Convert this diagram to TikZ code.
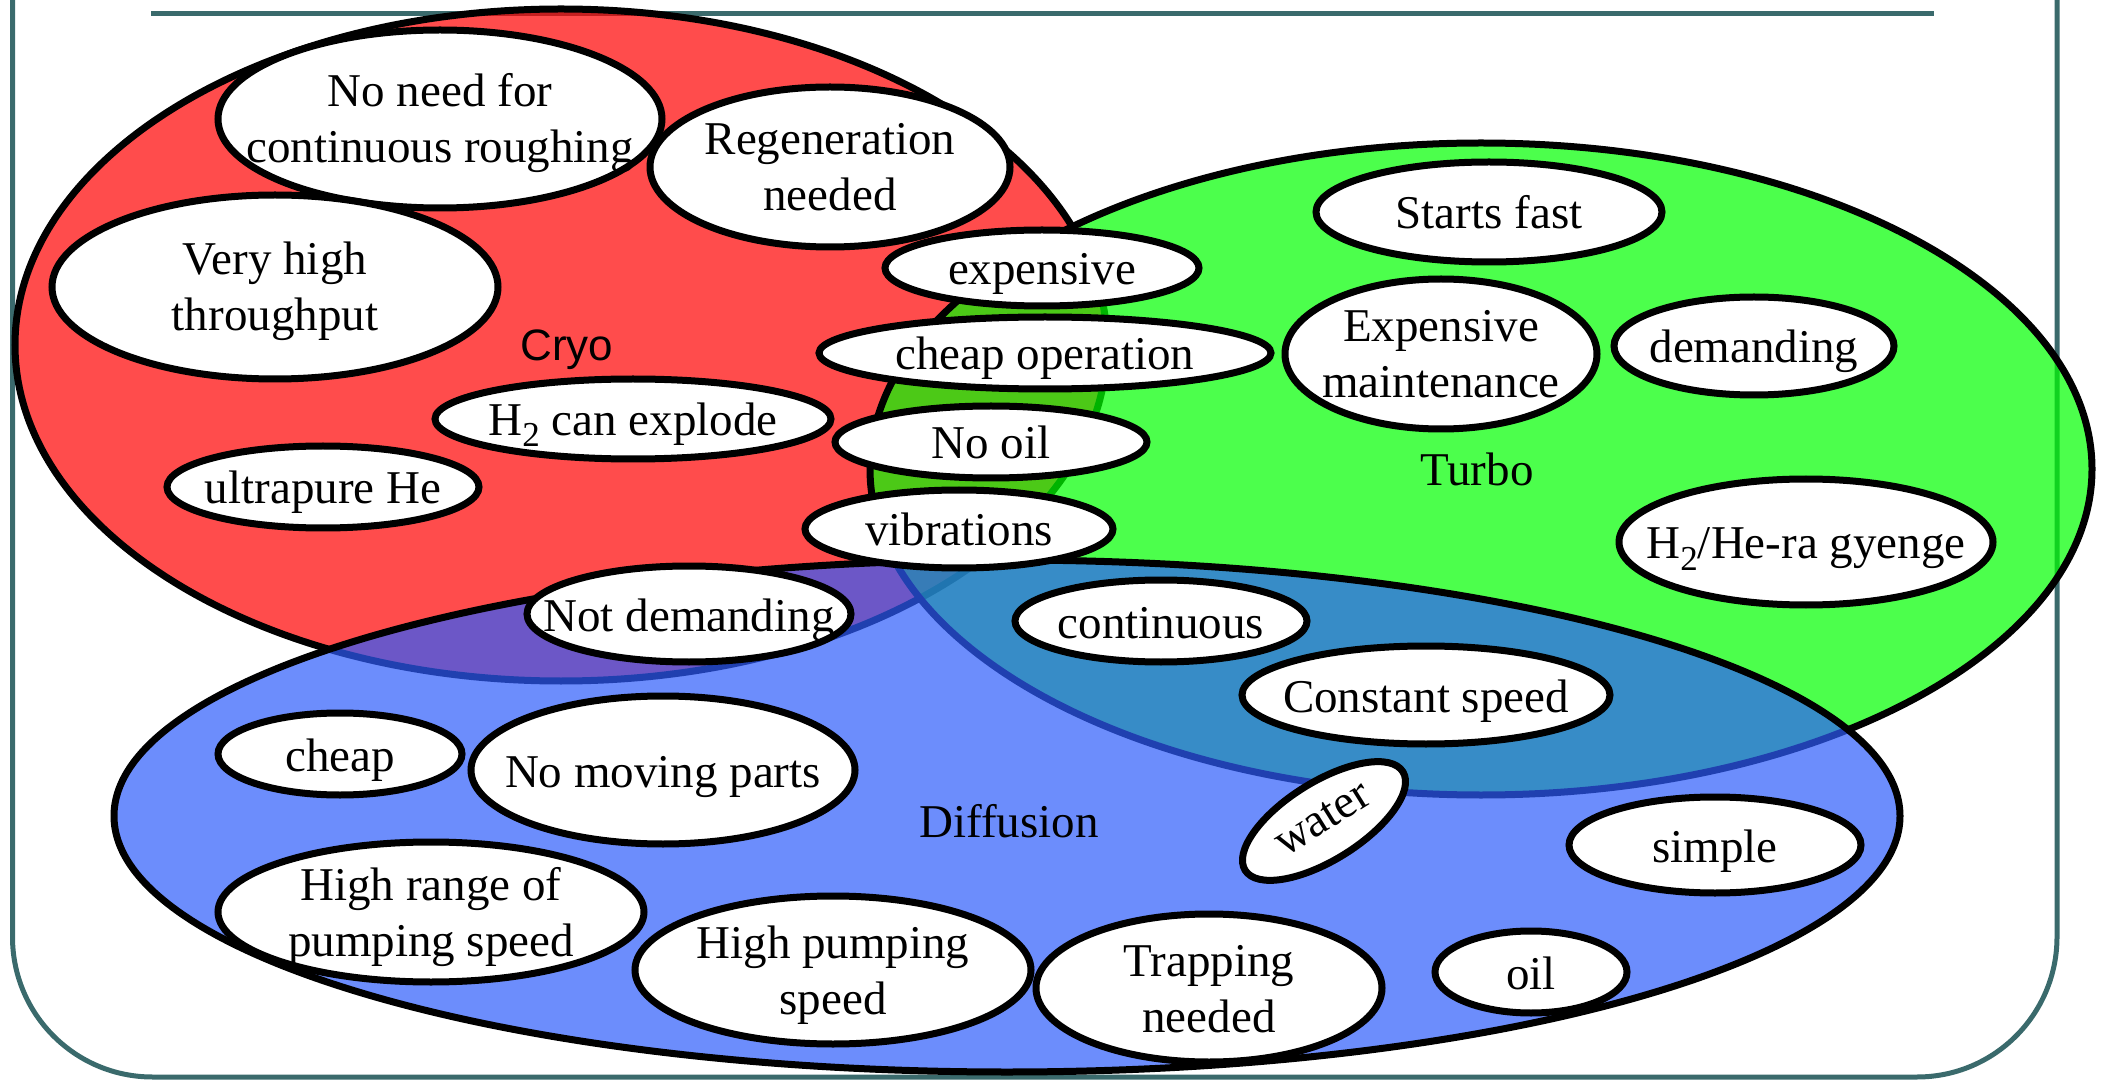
\documentclass[tikz,border=0pt]{standalone}
\usepackage{fontspec}
\setmainfont{Liberation Serif}
\newfontfamily\cryofont{Liberation Sans}
\usepackage{graphicx}
\usetikzlibrary{shapes.geometric}
\definecolor{framec}{RGB}{58,106,108}
\definecolor{cryoc}{RGB}{255,0,0}
\definecolor{turboc}{RGB}{0,255,0}
\definecolor{diffc}{RGB}{46,92,251}
\newcommand{\oneline}[2][8.5pt]{\makebox[0pt]{\smash{\raisebox{-#1}{#2}}}}
\newcommand{\twoline}[2]{\makebox[0pt]{\smash{\raisebox{-22pt}{\begin{tabular}[b]{@{}c@{}}#1\\#2\end{tabular}}}}}
\newcommand{\lowtwo}{\raisebox{-5.5pt}{\fontsize{17.5pt}{20pt}\selectfont 2}}
\tikzset{
  bubble/.style={ellipse, draw=black, fill=white, line width=3.5pt, inner sep=0pt, outer sep=0pt,
    font=\fontsize{23.5pt}{28pt}\selectfont},
  setlabel/.style={anchor=base, inner sep=0pt, font=\fontsize{23.5pt}{28pt}\selectfont},
  venn/.style={fill opacity=0.7, draw=black, draw opacity=1, line width=3.5pt},
  frameline/.style={draw=framec, line width=2.5pt}
}
\begin{document}
\begin{tikzpicture}[x=0.5pt,y=-0.5pt]
\useasboundingbox (0,0) rectangle (2105,1080);
% frame
\path[frameline] (151,13.5) -- (1934,13.5);
\path[frameline, rounded corners=70pt] (12.5,-10) -- (12.5,1077) -- (2057,1077) -- (2057,-10);
% sets
\path[venn, fill=cryoc] (561,345) ellipse [x radius=273pt, y radius=168pt];
\path[venn, fill=turboc] (1481,469) ellipse [x radius=305.5pt, y radius=163pt];
\path[venn, fill=diffc] (1007,816) ellipse [x radius=446.5pt, y radius=128pt];
% set labels
\node[setlabel, font=\cryofont\fontsize{22pt}{24pt}\selectfont] (cryo) at (567,361) {Cryo};
\node[setlabel] (turbo) at (1477,486) {Turbo};
\node[setlabel] (diff) at (1009,837) {Diffusion};
% bubbles
\node[bubble, minimum width=222pt, minimum height=89pt] (noneed) at (440,119) {\twoline{No need for}{continuous roughing}};
\node[bubble, minimum width=180pt, minimum height=80pt] (regen) at (830,167) {\twoline{Regeneration}{needed}};
\node[bubble, minimum width=223pt, minimum height=92pt] (veryhigh) at (275,287) {\twoline{Very high}{throughput}};
\node[bubble, minimum width=198pt, minimum height=40pt] (htwo) at (633,419) {\oneline{H\lowtwo\ can explode}};
\node[bubble, minimum width=156pt, minimum height=41pt] (ultra) at (323,487) {\oneline{ultrapure He}};
\node[bubble, minimum width=157pt, minimum height=38pt] (expens) at (1042,268) {\oneline{expensive}};
\node[bubble, minimum width=226pt, minimum height=36pt] (cheapop) at (1045,353) {\oneline{cheap operation}};
\node[bubble, minimum width=156pt, minimum height=36pt] (nooil) at (991,442) {\oneline{No oil}};
\node[bubble, minimum width=154pt, minimum height=39pt] (vibr) at (959,529) {\oneline{vibrations}};
\node[bubble, minimum width=173pt, minimum height=50pt] (starts) at (1489,212) {\oneline{Starts fast}};
\node[bubble, minimum width=156pt, minimum height=75pt] (expmaint) at (1441,354) {\twoline{Expensive}{maintenance}};
\node[bubble, minimum width=140pt, minimum height=49pt] (demand) at (1754,346) {\oneline{demanding}};
\node[bubble, minimum width=187pt, minimum height=63pt] (htwohe) at (1806,542) {\oneline{H\lowtwo/He-ra gyenge}};
\node[bubble, minimum width=162pt, minimum height=48pt] (notdem) at (689,614) {\oneline{Not demanding}};
\node[bubble, minimum width=122pt, minimum height=41pt] (cheap) at (340,754) {\oneline{cheap}};
\node[bubble, minimum width=192pt, minimum height=74pt] (nomove) at (663,770) {\oneline{No moving parts}};
\node[bubble, minimum width=213pt, minimum height=70pt] (hrange) at (431,912) {\twoline{High range of}{pumping speed}};
\node[bubble, minimum width=198pt, minimum height=74pt] (hpump) at (833,970) {\twoline{High pumping}{speed}};
\node[bubble, minimum width=146pt, minimum height=41pt] (contin) at (1161,621) {\oneline{continuous}};
\node[bubble, minimum width=184pt, minimum height=49pt] (constsp) at (1426,695) {\oneline{Constant speed}};
\node[bubble, minimum width=93pt, minimum height=39pt, rotate=32] (water) at (1324,821) {\oneline[5pt]{water}};
\node[bubble, minimum width=146pt, minimum height=48pt] (simple) at (1715,845) {\oneline{simple}};
\node[bubble, minimum width=96pt, minimum height=41pt] (oil) at (1531,972) {\oneline{oil}};
\node[bubble, minimum width=173pt, minimum height=74pt] (trap) at (1209,988) {\twoline{Trapping}{needed}};
\end{tikzpicture}
\end{document}
